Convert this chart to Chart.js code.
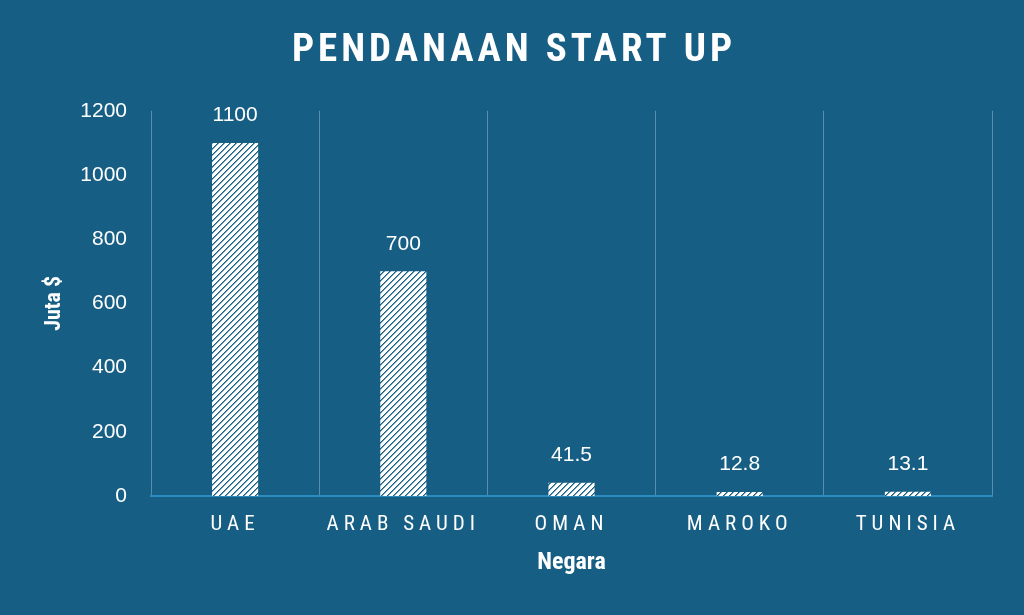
<!DOCTYPE html>
<html>
<head>
<meta charset="utf-8">
<script src="https://cdn.jsdelivr.net/npm/chart.js@4.4.1/dist/chart.umd.min.js"></script>
<style>
  html, body { margin: 0; padding: 0; background: #165E83; }
  #wrap { width: 1024px; height: 615px; }
</style>
</head>
<body>
<div id="wrap"><canvas id="c" width="1024" height="615"></canvas></div>
<script>
const categories = ["UAE", "ARAB SAUDI", "OMAN", "MAROKO", "TUNISIA"];
const funding = [1100, 700, 41.5, 12.8, 13.1];
const valueLabels = ["1100", "700", "41.5", "12.8", "13.1"];
const yTicks = [0, 200, 400, 600, 800, 1000, 1200];

const BG = '#165E83';
const NARROW = '"Roboto Condensed", "Roboto", sans-serif';
const PLAIN = '"Liberation Sans", Arial, sans-serif';

function makePattern() {
  const s = 6;
  const cv = document.createElement('canvas');
  cv.width = s; cv.height = s;
  const g = cv.getContext('2d');
  const img = g.createImageData(s, s);
  const dark = [0x16, 0x5E, 0x83];
  const mid = [0x6A, 0x9C, 0xB6];
  for (let y = 0; y < s; y++) {
    for (let x = 0; x < s; x++) {
      const i = (y * s + x) * 4;
      const k = (x + y) % s;
      const c = k === 0 ? dark : (k === 1 ? mid : [255, 255, 255]);
      img.data[i] = c[0];
      img.data[i + 1] = c[1];
      img.data[i + 2] = c[2];
      img.data[i + 3] = 255;
    }
  }
  g.putImageData(img, 0, 0);
  return g.createPattern(cv, 'repeat');
}

const bgPlugin = {
  id: 'bg',
  beforeDraw(chart) {
    const ctx = chart.ctx;
    ctx.save();
    ctx.fillStyle = BG;
    ctx.fillRect(0, 0, chart.width, chart.height);
    ctx.restore();
  }
};

const spacingPlugin = {
  id: 'spacing',
  beforeDraw(chart) {
    const wrap = (obj, key, sp, dx) => {
      if (!obj || obj['__w_' + key]) return;
      const orig = obj[key].bind(obj);
      obj[key] = function (...a) {
        const ctx = chart.ctx;
        ctx.save();
        ctx.letterSpacing = sp;
        if (dx) ctx.translate(dx, 0);
        try { return orig(...a); } finally { ctx.restore(); }
      };
      obj['__w_' + key] = true;
    };
    wrap(chart.scales.x, 'drawLabels', '5px', 0);
    wrap(chart.titleBlock, 'draw', '4px', 18);
  }
};

const valueLabelPlugin = {
  id: 'valueLabels',
  afterDatasetsDraw(chart) {
    const ctx = chart.ctx;
    const meta = chart.getDatasetMeta(0);
    ctx.save();
    ctx.fillStyle = '#ffffff';
    ctx.font = '21px ' + PLAIN;
    ctx.textAlign = 'center';
    ctx.textBaseline = 'bottom';
    meta.data.forEach((bar, i) => {
      ctx.fillText(valueLabels[i], bar.x, bar.y - 17);
    });
    ctx.restore();
  }
};

new Chart(document.getElementById('c'), {
  type: 'bar',
  data: {
    labels: categories,
    datasets: [{
      label: 'Pendanaan',
      data: funding,
      backgroundColor: makePattern(),
      borderWidth: 0,
      barPercentage: 0.274,
      categoryPercentage: 1.0
    }]
  },
  options: {
    responsive: false,
    animation: false,
    devicePixelRatio: 1,
    layout: { padding: { left: 0, right: 32, top: 0, bottom: 0 } },
    plugins: {
      legend: { display: false },
      tooltip: { enabled: false },
      title: {
        display: true,
        text: 'PENDANAAN START UP',
        color: '#ffffff',
        font: { family: NARROW, size: 39, weight: 'bold', lineHeight: 1.2 },
        padding: { top: 28, bottom: 36 }
      }
    },
    scales: {
      x: {
        offset: true,
        grid: { display: true, offset: true, color: 'rgba(110,160,190,0.75)', lineWidth: 1, drawTicks: false },
        border: { display: true, color: '#2C8BC0', width: 2 },
        ticks: { color: '#ffffff', font: { family: NARROW, size: 21 }, padding: 16, maxRotation: 0 },
        title: {
          display: true,
          text: 'Negara',
          color: '#ffffff',
          font: { family: NARROW, size: 24, weight: 'bold', lineHeight: 1.2 },
          padding: { top: 14, bottom: 38 }
        },
        afterFit(scale) { scale.height = 615 - 496; }
      },
      y: {
        min: 0,
        max: 1200,
        afterBuildTicks(scale) { scale.ticks = yTicks.map(v => ({ value: v })); },
        grid: { display: false, drawTicks: false },
        border: { display: false },
        ticks: { color: '#ffffff', font: { family: PLAIN, size: 21 }, padding: 24, callback: (v) => String(v) },
        title: {
          display: true,
          text: 'Juta $',
          color: '#ffffff',
          font: { family: NARROW, size: 22, weight: 'bold', lineHeight: 1.2 },
          padding: { top: 41, bottom: 0 }
        },
        afterFit(scale) { scale.width = 151; }
      }
    }
  },
  plugins: [bgPlugin, spacingPlugin, valueLabelPlugin]
});
</script>
</body>
</html>
